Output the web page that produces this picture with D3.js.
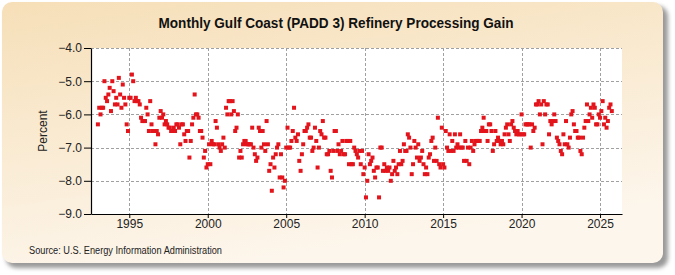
<!DOCTYPE html>
<html>
<head>
<meta charset="utf-8">
<script src="https://cdn.jsdelivr.net/npm/d3@7"></script>
<style>
  html, body { margin: 0; padding: 0; background: #fff; }
  svg { display: block; font-family: 'Liberation Sans Narrow', 'Arial Narrow', 'Liberation Sans', Arial, sans-serif; }
</style>
</head>
<body>
<div id="chart"></div>
<script>
// monthly values, Jan 1993 onward (percent)
const startYear = 1993;
const processingGain = [
  -6.3, -5.8, -6.0, -5.8, -5.8, -5.0, -5.5, -5.6, -5.4, -5.2, -5.9, -5.0,
  -5.3, -5.7, -5.5, -5.7, -4.9, -5.4, -5.8, -5.1, -5.5, -5.7, -6.3, -6.5,
  -5.5, -5.5, -4.8, -5.0, -5.6, -5.5, -5.6, -5.6, -5.7, -6.1, -6.2, -6.2,
  -6.2, -5.8, -6.0, -6.5, -5.6, -6.3, -6.5, -6.5, -6.9, -6.5, -6.6, -6.1,
  -5.9, -6.1, -6.0, -6.3, -6.2, -6.3, -6.4, -6.4, -6.5, -6.5, -6.4, -6.5,
  -6.3, -6.3, -6.4, -6.9, -6.3, -6.3, -6.6, -6.8, -6.5, -6.5, -7.3, -6.8,
  -6.3, -6.1, -5.4, -6.0, -6.0, -6.1, -6.5, -6.5, -6.7, -7.3, -7.1, -7.6,
  -7.5, -6.9, -7.5, -6.8, -6.9, -6.9, -6.2, -6.4, -6.9, -7.0, -7.1, -6.9,
  -6.7, -7.0, -5.8, -6.0, -5.6, -5.6, -6.0, -5.6, -5.9, -6.5, -6.4, -6.0,
  -7.3, -7.1, -7.3, -6.9, -6.8, -6.8, -6.9, -6.9, -6.9, -6.9, -6.4, -7.0,
  -7.2, -7.4, -7.3, -6.4, -6.5, -7.0, -6.5, -6.9, -7.1, -6.2, -6.9, -7.7,
  -7.5, -8.3, -7.3, -7.6, -7.2, -7.0, -6.9, -7.9, -7.2, -7.9, -8.2, -8.0,
  -7.0, -6.4, -7.0, -7.0, -6.8, -6.5, -5.8, -6.7, -6.8, -6.6, -7.4, -7.7,
  -7.2, -6.9, -6.5, -6.5, -6.4, -6.3, -6.7, -6.7, -7.1, -7.0, -6.4, -6.8,
  -7.6, -7.0, -6.5, -6.6, -6.2, -6.7, -6.7, -7.2, -7.2, -7.1, -7.7, -7.9,
  -7.1, -6.5, -6.5, -7.1, -6.9, -7.2, -7.1, -6.8, -7.2, -7.2, -6.8, -6.8,
  -7.5, -6.8, -7.5, -7.5, -7.0, -7.1, -7.2, -7.3, -7.1, -7.5, -7.1, -7.8,
  -7.6, -8.5, -8.0, -7.2, -7.5, -7.4, -7.3, -7.7, -7.9, -7.6, -7.6, -8.5,
  -7.0, -7.0, -7.7, -7.5, -7.7, -7.6, -7.7, -7.6, -8.0, -7.8, -7.4, -7.7,
  -7.6, -7.8, -7.5, -7.1, -7.5, -7.4, -6.9, -7.1, -7.1, -6.6, -6.7, -7.0,
  -7.8, -7.5, -6.8, -7.0, -7.3, -6.9, -7.4, -7.3, -7.1, -7.5, -7.8, -7.6,
  -7.8, -7.3, -7.2, -6.8, -6.7, -7.4, -7.0, -7.4, -6.1, -7.5, -7.6, -6.4,
  -7.5, -7.6, -6.5, -7.0, -7.1, -6.6, -7.1, -6.8, -7.1, -6.6, -7.0, -6.9,
  -7.0, -6.6, -7.0, -7.0, -7.4, -6.8, -7.4, -7.0, -7.5, -7.0, -6.8, -7.1,
  -6.9, -6.8, -6.8, -6.8, -6.8, -6.5, -6.4, -6.1, -6.5, -6.5, -6.8, -6.3,
  -6.3, -6.5, -7.1, -6.9, -6.5, -6.8, -6.7, -6.8, -6.9, -6.8, -6.9, -6.6,
  -6.4, -6.3, -6.6, -6.8, -6.3, -6.2, -6.4, -6.5, -6.6, -6.5, -6.6, -6.6,
  -6.0, -6.6, -6.6, -6.3, -6.3, -6.3, -6.3, -7.0, -6.3, -6.5, -6.4, -5.7,
  -5.7, -5.6, -6.0, -5.7, -6.9, -5.6, -6.0, -5.7, -5.7, -6.6, -6.2, -6.3,
  -6.2, -6.0, -6.2, -6.7, -6.8, -6.9, -7.1, -7.2, -6.6, -6.9, -6.2, -6.9,
  -7.0, -6.7, -6.0, -5.9, -6.3, -6.5, -6.5, -6.7, -6.7, -7.1, -7.2, -6.7,
  -6.4, -6.2, -5.7, -6.2, -6.0, -5.8, -6.1, -5.7, -5.8, -6.3, -6.3, -6.0,
  -6.1, -5.9, -5.6, -6.3, -6.1, -6.4, -6.2, -5.8, -5.7, -5.9
];
const yTicks = [-4, -5, -6, -7, -8, -9];
const xTickYears = [1995, 2000, 2005, 2010, 2015, 2020, 2025];

const title = 'Monthly Gulf Coast (PADD 3) Refinery Processing Gain';
const yLabel = 'Percent';
const source = 'Source: U.S. Energy Information Administration';

const W = 675, H = 275;
const margin = { top: 48, right: 53, bottom: 61, left: 91 };
const width = W - margin.left - margin.right;
const height = H - margin.top - margin.bottom;

const data = processingGain.map((v, i) => ({ t: startYear + i / 12, v }));

const svg = d3.select('#chart').append('svg')
  .attr('width', W).attr('height', H);

const defs = svg.append('defs');
const grad = defs.append('linearGradient')
  .attr('id', 'bg').attr('x1', 0).attr('y1', 0).attr('x2', 0.35).attr('y2', 1);
grad.append('stop').attr('offset', '0%').attr('stop-color', '#f6dfb8');
grad.append('stop').attr('offset', '100%').attr('stop-color', '#fdf6ec');
defs.append('filter').attr('id', 'blur')
  .append('feGaussianBlur').attr('stdDeviation', 2);

// frame + shadow
svg.append('rect')
  .attr('x', 6).attr('y', 6).attr('width', 662).attr('height', 262)
  .attr('rx', 10).attr('fill', '#9a9a9a').attr('filter', 'url(#blur)');
svg.append('rect')
  .attr('x', 2).attr('y', 2).attr('width', 661).attr('height', 261)
  .attr('rx', 10).attr('fill', 'url(#bg)');

svg.append('text')
  .attr('x', 336).attr('y', 28)
  .attr('text-anchor', 'middle')
  .attr('textLength', 355).attr('lengthAdjust', 'spacingAndGlyphs')
  .style('font-size', '14px').style('font-weight', 'bold')
  .attr('fill', '#111')
  .text(title);

const g = svg.append('g')
  .attr('transform', 'translate(' + margin.left + ',' + margin.top + ')');

g.append('rect').attr('width', width).attr('height', height).attr('fill', '#fff');

const x = d3.scaleLinear().domain([1992.56, 2026.4]).range([0, width]);
const y = d3.scaleLinear().domain([-9, -4]).range([height, 0]);

// grid
g.selectAll('.hgrid')
  .data(yTicks.filter((d) => d > -9))
  .enter().append('line')
  .attr('x1', 0).attr('x2', width)
  .attr('y1', (d) => Math.round(y(d)) + 0.5).attr('y2', (d) => Math.round(y(d)) + 0.5)
  .attr('stroke', '#a0a0a0').attr('stroke-dasharray', '3,2');
g.selectAll('.vgrid')
  .data(xTickYears)
  .enter().append('line')
  .attr('y1', 0).attr('y2', height)
  .attr('x1', (d) => Math.round(x(d)) + 0.5).attr('x2', (d) => Math.round(x(d)) + 0.5)
  .attr('stroke', '#a0a0a0').attr('stroke-dasharray', '3,2');

// points
const s = 4;
g.selectAll('.pt')
  .data(data)
  .enter().append('rect')
  .attr('class', 'pt')
  .attr('x', (d) => x(d.t) - s / 2)
  .attr('y', (d) => y(d.v) - s / 2)
  .attr('width', s).attr('height', s)
  .attr('fill', '#e3141b');

// axes
const yAxis = g.append('g')
  .call(d3.axisLeft(y).tickValues(yTicks).tickFormat(d3.format('.1f')).tickSize(7).tickSizeOuter(0));
const xAxis = g.append('g')
  .attr('transform', 'translate(0,' + height + ')')
  .call(d3.axisBottom(x).tickValues(xTickYears).tickFormat(d3.format('d')).tickSize(4).tickSizeOuter(0));

[yAxis, xAxis].forEach((a) => {
  a.select('.domain').attr('stroke', '#000').attr('stroke-width', 1.2);
  a.selectAll('.tick line').attr('stroke', '#000');
  a.selectAll('text').style('font-size', '12px').attr('fill', '#222')
    .style('font-family', null);
});
yAxis.selectAll('text').attr('x', -9);
xAxis.selectAll('text').attr('y', 5);

g.append('text')
  .attr('transform', 'rotate(-90)')
  .attr('x', -height / 2).attr('y', -44)
  .attr('text-anchor', 'middle')
  .style('font-size', '12px').attr('fill', '#222')
  .text(yLabel);

svg.append('text')
  .attr('x', 29).attr('y', 254)
  .attr('textLength', 193).attr('lengthAdjust', 'spacingAndGlyphs')
  .style('font-size', '10px').attr('fill', '#222')
  .text(source);
</script>
</body>
</html>
